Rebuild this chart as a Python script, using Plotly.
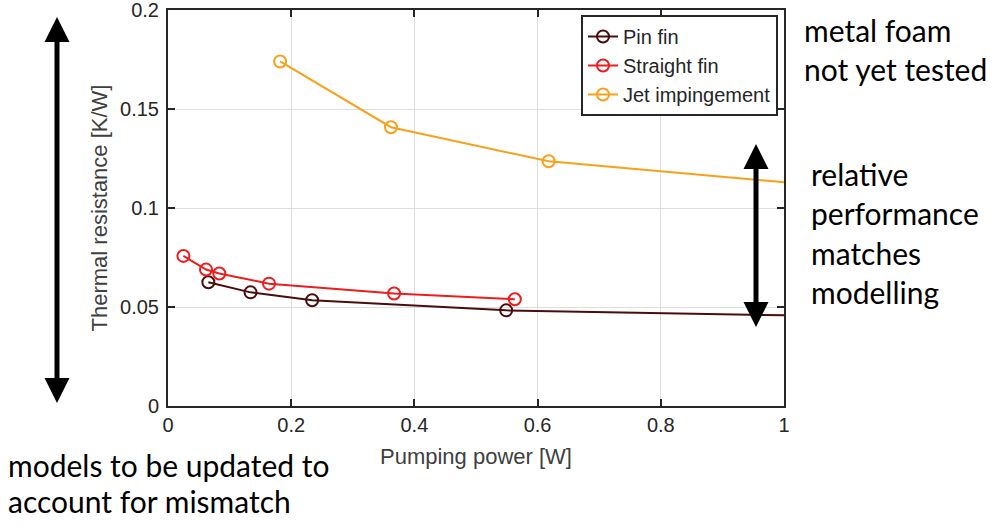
import plotly.graph_objects as go

# ---- data ----
pin_x = [0.0655, 0.134, 0.234, 0.549, 1.2]
pin_y = [0.0625, 0.0574, 0.0534, 0.0483, 0.0447]

straight_x = [0.025, 0.0617, 0.0833, 0.164, 0.367, 0.563]
straight_y = [0.0758, 0.0689, 0.0669, 0.0618, 0.0568, 0.0539]

jet_x = [0.182, 0.362, 0.618, 1.25]
jet_y = [0.174, 0.1408, 0.1236, 0.106]

x_ticks = [0, 0.2, 0.4, 0.6, 0.8, 1]
x_tick_text = ["0", "0.2", "0.4", "0.6", "0.8", "1"]
y_ticks = [0, 0.05, 0.1, 0.15, 0.2]
y_tick_text = ["0", "0.05", "0.1", "0.15", "0.2"]

series_names = ["Pin fin", "Straight fin", "Jet impingement"]
series_colors = ["#4a0d0d", "#ee1c1c", "#f7a11a"]

note_right_top = ["metal foam", "not yet tested"]
note_right_mid = ["relative", "performance", "matches", "modelling"]
note_bottom = ["models to be updated to", "account for mismatch"]

# ---- layout geometry (pixels); body margin removed via post_script ----
W, H = 1002, 528
L, T = 168, 10
PW, PH = 616, 396
R, B = W - L - PW, H - T - PH


def px(xs):
    """screen x -> paper x"""
    return (xs - L) / PW


def py(ys):
    """screen y -> paper y"""
    return (T + PH - ys) / PH


fig = go.Figure()
for xs, ys, name, col in zip([pin_x, straight_x, jet_x],
                             [pin_y, straight_y, jet_y],
                             series_names, series_colors):
    fig.add_trace(go.Scatter(
        x=xs, y=ys, name=name, mode="lines+markers",
        line=dict(color=col, width=2),
        marker=dict(symbol="circle-open", size=12, color=col,
                    line=dict(width=2, color=col)),
    ))

FAM = "Liberation Sans, Arial, sans-serif"
axis_font = dict(family=FAM, size=20, color="#262626")
title_font = dict(family=FAM, size=22, color="#404040")
common = dict(
    showgrid=True, gridcolor="#dedede", gridwidth=1,
    showline=True, linecolor="#262626", linewidth=2, mirror="ticks",
    ticks="inside", ticklen=7, tickcolor="#262626", tickwidth=1.5,
    tickfont=axis_font, zeroline=False, automargin=False,
    ticklabeloverflow="allow",
)
fig.update_xaxes(range=[0, 1], tickvals=x_ticks, ticktext=x_tick_text,
                 title=dict(text="Pumping power [W]", font=title_font, standoff=14),
                 **common)
fig.update_yaxes(range=[0, 0.2], tickvals=y_ticks, ticktext=y_tick_text,
                 ticklabelstandoff=3,
                 title=dict(text="Thermal resistance [K/W]", font=title_font, standoff=6),
                 **common)

fig.update_layout(
    width=W, height=H,
    margin=dict(l=L, r=R, t=T, b=B, pad=0),
    paper_bgcolor="white", plot_bgcolor="white",
    showlegend=True,
    legend=dict(
        x=px(581), y=py(15), xanchor="left", yanchor="top",
        bgcolor="white", bordercolor="#262626", borderwidth=2,
        font=dict(family=FAM, size=20, color="#262626"),
        itemwidth=30, tracegroupgap=0,
    ),
)


# ---- double-headed arrows drawn as shapes (paper coordinates) ----
def double_arrow(xc, ytop, ybot, head_w=25, head_h=25, shaft=5):
    fig.add_shape(type="line", xref="paper", yref="paper",
                  x0=px(xc), x1=px(xc), y0=py(ytop + head_h - 2), y1=py(ybot - head_h + 2),
                  line=dict(color="black", width=shaft))
    up = (f"M {px(xc)} {py(ytop)} L {px(xc - head_w / 2)} {py(ytop + head_h)} "
          f"L {px(xc + head_w / 2)} {py(ytop + head_h)} Z")
    dn = (f"M {px(xc)} {py(ybot)} L {px(xc - head_w / 2)} {py(ybot - head_h)} "
          f"L {px(xc + head_w / 2)} {py(ybot - head_h)} Z")
    for p in (up, dn):
        fig.add_shape(type="path", path=p, xref="paper", yref="paper",
                      fillcolor="black", line=dict(color="black", width=0))


double_arrow(57, 17, 403)
double_arrow(756, 144, 327)

note_font = dict(family="Lato, Open Sans, sans-serif", size=30, color="black")


def note(text, xs, ys):
    fig.add_annotation(text=text, xref="paper", yref="paper", x=px(xs), y=py(ys),
                       xanchor="left", yanchor="middle", showarrow=False, font=note_font)


for t, yy in zip(note_right_top, [30, 69]):
    note(t, 802, yy)
for t, yy in zip(note_right_mid, [174, 213, 253, 292]):
    note(t, 809, yy)
for t, yy in zip(note_bottom, [465, 501]):
    note(t, 6, yy)

fig.write_html("out.html", config={"displayModeBar": False},
               post_script="document.body.style.margin='0';")
